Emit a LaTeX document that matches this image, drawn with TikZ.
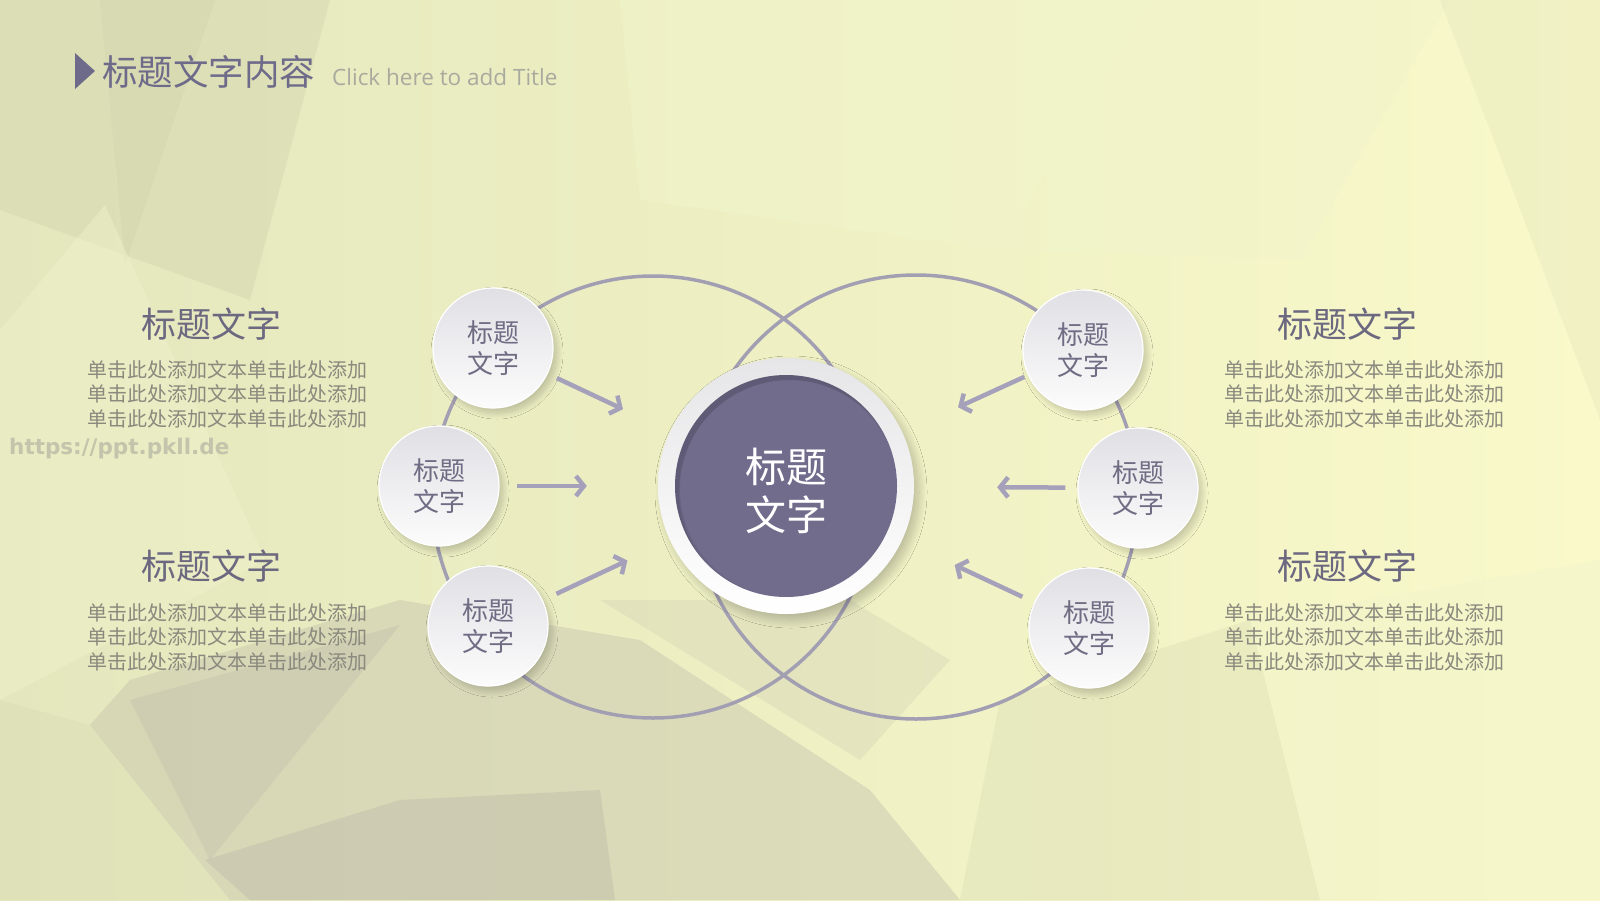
\documentclass[tikz,border=0pt]{standalone}
\usepackage{fontspec}
\setmainfont{Noto Sans CJK SC}
\newfontfamily\latinfont{Open Sans}
\newfontfamily\wmfont{DejaVu Sans}
\usetikzlibrary{arrows.meta,shadows.blur}
\definecolor{bgL}{HTML}{E4E7BD}
\definecolor{bgR}{HTML}{F9F9CA}
\definecolor{polyA}{HTML}{D3D5AE}
\definecolor{polyB}{HTML}{C6C3AE}
\definecolor{polyC}{HTML}{B7B3A6}
\definecolor{polyD}{HTML}{F1F3CB}
\definecolor{ringc}{HTML}{A39FB3}
\definecolor{arrc}{HTML}{A6A1BA}
\definecolor{smtop}{HTML}{E0DFE4}
\definecolor{smbot}{HTML}{FCFCFC}
\definecolor{ctop}{HTML}{E6E6E8}
\definecolor{smtext}{HTML}{6F6C84}
\definecolor{hdc}{HTML}{6B6880}
\definecolor{bdc}{HTML}{8A897E}
\definecolor{purp}{HTML}{726C8C}
\definecolor{titlec}{HTML}{6E6A8A}
\definecolor{subc}{HTML}{A9AA9E}
\definecolor{wmc}{HTML}{C2C4AB}
\tikzset{
  ring/.style={draw=ringc, line width=3.5pt},
  arr/.style={draw=arrc, line width=4.5pt, -{Straight Barb[length=8pt,width=20pt]}},
  small/.style={circle, minimum size=120pt, inner sep=0pt, top color=smtop, bottom color=smbot,
    draw=white, line width=1.2pt,
    blur shadow={shadow xshift=4pt, shadow yshift=-5pt, shadow blur radius=6pt, shadow blur steps=20, shadow opacity=20},
    text=smtext, font=\fontsize{26}{31}\selectfont, align=center},
  hd/.style={text=hdc, font=\fontsize{35}{40}\selectfont, inner sep=0pt},
  bodytxt/.style={text=bdc, font=\fontsize{20}{24.5}\selectfont, align=left, inner sep=0pt}
}
\begin{document}
\begin{tikzpicture}[x=1pt,y=-1pt]
\useasboundingbox (0,0) rectangle (1600,900);
% background
\shade[left color=bgL, right color=bgR] (0,0) rectangle (1600,900);
\fill[polyA, opacity=0.45] (0,0) -- (330,0) -- (250,300) -- (0,210) -- cycle;
\fill[polyA, opacity=0.45] (100,0) -- (215,0) -- (125,265) -- cycle;
\fill[polyD, opacity=0.45] (0,330) -- (105,205) -- (265,560) -- (0,700) -- cycle;
\fill[polyD, opacity=0.5] (620,0) -- (1150,0) -- (1000,250) -- (640,200) -- cycle;
\fill[polyD, opacity=0.45] (1000,250) -- (1150,0) -- (1450,0) -- (1300,260) -- cycle;
\fill[polyB, opacity=0.45] (90,725) -- (130,680) -- (400,600) -- (640,640) -- (870,790) -- (960,900) -- (230,900) -- cycle;
\fill[polyC, opacity=0.35] (205,860) -- (400,800) -- (600,790) -- (615,900) -- (250,900) -- cycle;
\fill[polyC, opacity=0.25] (130,700) -- (400,625) -- (210,860) -- cycle;
\fill[polyB, opacity=0.25] (600,600) -- (860,760) -- (950,660) -- (850,600) -- cycle;
\fill[polyA, opacity=0.3] (960,900) -- (1000,700) -- (1250,620) -- (1320,900) -- cycle;
\fill[polyA, opacity=0.2] (1440,0) -- (1600,0) -- (1600,420) -- (1490,130) -- cycle;
\fill[polyD, opacity=0.4] (1250,620) -- (1600,560) -- (1600,900) -- (1320,900) -- cycle;
\fill[polyA, opacity=0.25] (0,700) -- (90,725) -- (230,900) -- (0,900) -- cycle;

% watermark
\node[text=wmc, font=\wmfont\bfseries\fontsize{21.5}{24}\selectfont, anchor=west, inner sep=0pt] (wm) at (9,449) {https://ppt.pkll.de};

% title
\fill[titlec] (75,53) -- (95,71) -- (75,89) -- cycle;
\node[text=titlec, font=\fontsize{35.5}{40}\selectfont, anchor=west, inner sep=0pt] (title) at (102,72) {标题文字内容};
\node[text=subc, font=\latinfont\fontsize{22.5}{26}\selectfont, anchor=west, inner sep=0pt] (sub) at (332,77) {Click here to add Title};

% rings
\draw[ring] (653,497) circle (221);
\draw[ring] (916,497) circle (222);

% central circle
\node[circle, minimum size=256pt, inner sep=0pt, top color=ctop, bottom color=white,
  blur shadow={shadow xshift=5pt, shadow yshift=-6pt, shadow blur radius=8pt, shadow blur steps=20, shadow opacity=22}] (c) at (786,486) {};
\fill[purp] (786,486) circle (111);
\begin{scope}
  \clip (786,486) circle (111);
  \draw[black, opacity=0.09, line width=16pt] (790,491) circle (119);
  \draw[black, opacity=0.07, line width=8pt] (789,489) circle (113);
\end{scope}
\node[text=white, font=\fontsize{41}{48}\selectfont, align=center] (ct) at (786,491) {标题\\文字};

% small circles
\node[small] (L1) at (493,348) {标题\\文字};
\node[small] (L2) at (439,486) {标题\\文字};
\node[small] (L3) at (488,626) {标题\\文字};
\node[small] (R1) at (1083,350) {标题\\文字};
\node[small] (R2) at (1138,488) {标题\\文字};
\node[small] (R3) at (1089,628) {标题\\文字};

% arrows
\draw[arr, shorten <=10pt, shorten >=52pt] (L1) -- (c);
\draw[arr, shorten <=17pt, shorten >=71pt] (L2) -- (c);
\draw[arr, shorten <=15pt, shorten >=47pt] (L3) -- (c);
\draw[arr, shorten <=4pt, shorten >=61pt] (R1) -- (c);
\draw[arr, shorten <=12pt, shorten >=83pt] (R2) -- (c);
\draw[arr, shorten <=13pt, shorten >=58pt] (R3) -- (c);

% side texts
\node[hd] (hl1) at (211,324) {标题文字};
\node[bodytxt] (bl1) at (227,394) {单击此处添加文本单击此处添加\\单击此处添加文本单击此处添加\\单击此处添加文本单击此处添加};
\node[hd] (hl2) at (211,566) {标题文字};
\node[bodytxt] (bl2) at (227,637) {单击此处添加文本单击此处添加\\单击此处添加文本单击此处添加\\单击此处添加文本单击此处添加};
\node[hd] (hr1) at (1347,324) {标题文字};
\node[bodytxt] (br1) at (1364,394) {单击此处添加文本单击此处添加\\单击此处添加文本单击此处添加\\单击此处添加文本单击此处添加};
\node[hd] (hr2) at (1347,566) {标题文字};
\node[bodytxt] (br2) at (1364,637) {单击此处添加文本单击此处添加\\单击此处添加文本单击此处添加\\单击此处添加文本单击此处添加};
\end{tikzpicture}
\end{document}
